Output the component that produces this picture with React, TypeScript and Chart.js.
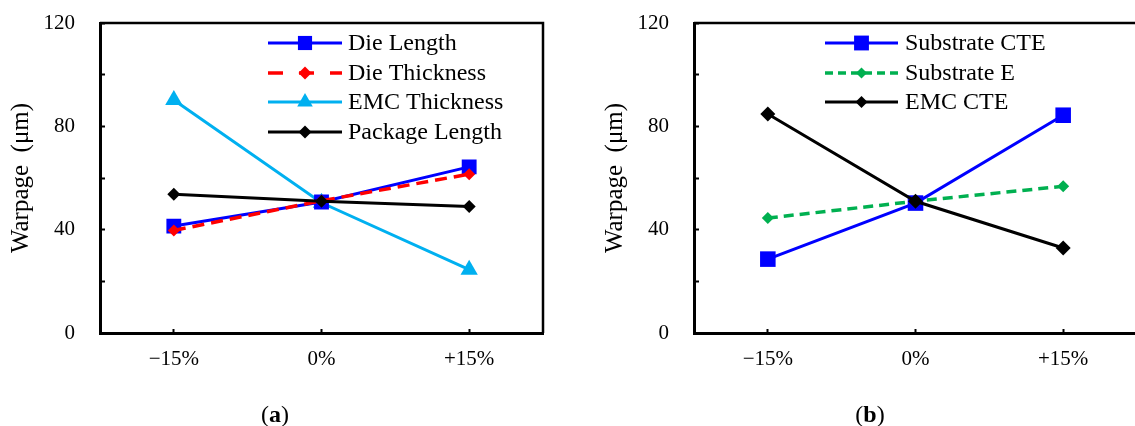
import React, { useEffect, useRef } from "react";
import { Chart, registerables } from "chart.js";

Chart.register(...registerables);

// ---------- data ----------
const categories = ["\u221215%", "0%", "+15%"];
const yLabelEvery = 40;

const dieLength = [41.4, 50.7, 64.3];
const dieThickness = [39.7, 51.2, 61.5];
const emcThickness = [90.2, 50.4, 24.5];
const packageLength = [53.7, 51.0, 49.0];

const substrateCTE = [28.6, 50.3, 84.3];
const substrateE = [44.5, 51.0, 56.8];
const emcCTE = [84.8, 51.0, 32.9];

const FONT = "'Liberation Serif', 'Times New Roman', serif";

function drawMarker(ctx: CanvasRenderingContext2D, style: string, x: number, y: number, r: number, color: string) {
  ctx.fillStyle = color;
  ctx.beginPath();
  if (style === "rect") {
    const s = r * Math.SQRT1_2;
    ctx.rect(x - s, y - s, 2 * s, 2 * s);
  } else if (style === "rectRot") {
    ctx.moveTo(x, y - r);
    ctx.lineTo(x + r, y);
    ctx.lineTo(x, y + r);
    ctx.lineTo(x - r, y);
    ctx.closePath();
  } else if (style === "triangle") {
    for (let k = 0; k < 3; k++) {
      const a = (k * 2 * Math.PI) / 3;
      const px = x + Math.sin(a) * r;
      const py = y - Math.cos(a) * r;
      if (k === 0) ctx.moveTo(px, py);
      else ctx.lineTo(px, py);
    }
    ctx.closePath();
  }
  ctx.fill();
}

const inlineLegend = {
  id: "inlineLegend",
  afterDraw(chart: any, _args: any, opts: any) {
    const ctx: CanvasRenderingContext2D = chart.ctx;
    chart.data.datasets.forEach((ds: any, i: number) => {
      const y = opts.rowY[i];
      ctx.save();
      ctx.strokeStyle = ds.borderColor;
      ctx.lineWidth = ds.borderWidth;
      ctx.setLineDash(opts.dash[i] || []);
      ctx.beginPath();
      ctx.moveTo(opts.x0, y);
      ctx.lineTo(opts.x1, y);
      ctx.stroke();
      ctx.setLineDash([]);
      drawMarker(ctx, ds.pointStyle, (opts.x0 + opts.x1) / 2, y, opts.radius[i], ds.pointBackgroundColor);
      ctx.fillStyle = "#000";
      ctx.font = `24px ${FONT}`;
      ctx.textBaseline = "middle";
      ctx.textAlign = "left";
      ctx.fillText(ds.label, opts.textX, y + 1);
      ctx.restore();
    });
  },
};

const frame = {
  id: "frame",
  afterDraw(chart: any) {
    const { ctx, chartArea } = chart;
    ctx.save();
    ctx.strokeStyle = "#000";
    ctx.lineWidth = 2.5;
    ctx.beginPath();
    ctx.moveTo(chartArea.left, chartArea.top);
    ctx.lineTo(chartArea.right, chartArea.top);
    ctx.lineTo(chartArea.right, chartArea.bottom);
    ctx.stroke();
    ctx.restore();
  },
};

function makeDataset(label: string, data: number[], color: string, style: string, radius: number, width: number, order: number, dash?: number[]) {
  return {
    label,
    data,
    borderColor: color,
    backgroundColor: color,
    pointBackgroundColor: color,
    pointBorderColor: color,
    pointBorderWidth: 0,
    pointStyle: style,
    pointRadius: radius,
    pointHoverRadius: radius,
    borderWidth: width,
    borderDash: dash || [],
    tension: 0,
    fill: false,
    order,
  };
}

function makeOptions(legendOpts: any): any {
  return {
    responsive: false,
    animation: false,
    layout: { padding: { top: 23, right: 17, left: 0, bottom: 0 } },
    plugins: {
      legend: { display: false },
      tooltip: { enabled: false },
      inlineLegend: legendOpts,
    },
    scales: {
      x: {
        type: "category",
        offset: true,
        ticks: { color: "#000", font: { family: FONT, size: 21 }, padding: 18, maxRotation: 0 },
        grid: { drawOnChartArea: false, offset: false, tickLength: -4, tickWidth: 2, tickColor: "#000" },
        border: { color: "#000", width: 3 },
        afterFit: (s: any) => {
          s.height = 93;
          s.paddingLeft = 0;
          s.paddingRight = 0;
        },
      },
      y: {
        min: 0,
        max: 120,
        ticks: {
          stepSize: 20,
          color: "#000",
          font: { family: FONT, size: 21 },
          padding: 30,
          callback: (v: any) => (Number(v) % yLabelEvery === 0 ? String(v) : ""),
        },
        grid: { drawOnChartArea: false, tickLength: -5, tickWidth: 2, tickColor: "#000" },
        border: { color: "#000", width: 3 },
        title: {
          display: true,
          text: "Warpage  (\u03bcm)",
          color: "#000",
          font: { family: FONT, size: 25 },
          padding: { top: 6, bottom: 0 },
        },
        afterFit: (s: any) => {
          s.width = 100;
          s.paddingTop = 0;
          s.paddingBottom = 0;
        },
      },
    },
  };
}

function ChartCanvas({ config }: { config: () => any }) {
  const ref = useRef<HTMLCanvasElement | null>(null);
  useEffect(() => {
    if (!ref.current) return;
    const chart = new Chart(ref.current, config());
    return () => chart.destroy();
  }, []);
  return <canvas ref={ref} width={560} height={426} style={{ width: 560, height: 426, display: "block" }} />;
}

const leftConfig = () => ({
  type: "line",
  data: {
    labels: categories,
    datasets: [
      makeDataset("Die Length", dieLength, "#0000FF", "rect", 10.5, 3, 2),
      makeDataset("Die Thickness", dieThickness, "#FF0000", "rectRot", 6, 3.5, 1, [12, 7]),
      makeDataset("EMC Thickness", emcThickness, "#00B0F0", "triangle", 10, 3, 3),
      makeDataset("Package Length", packageLength, "#000000", "rectRot", 6.5, 3, 0),
    ],
  },
  options: makeOptions({
    x0: 268,
    x1: 342,
    textX: 348,
    rowY: [43, 73, 102, 132],
    radius: [10, 6.5, 9, 6.5],
    dash: [[], [15, 16], [], []],
  }),
  plugins: [inlineLegend, frame],
});

const rightConfig = () => ({
  type: "line",
  data: {
    labels: categories,
    datasets: [
      makeDataset("Substrate CTE", substrateCTE, "#0000FF", "rect", 11, 3, 2),
      makeDataset("Substrate E", substrateE, "#00B050", "rectRot", 6, 3.5, 1, [10, 6]),
      makeDataset("EMC CTE", emcCTE, "#000000", "rectRot", 7.5, 3, 0),
    ],
  },
  options: makeOptions({
    x0: 231,
    x1: 304,
    textX: 311,
    rowY: [43, 73, 102],
    radius: [10.5, 5.5, 6],
    dash: [[], [8, 5], []],
  }),
  plugins: [inlineLegend, frame],
});

export default function App() {
  const caption: React.CSSProperties = {
    position: "absolute",
    top: 402,
    fontFamily: FONT,
    fontSize: 24,
    lineHeight: "24px",
    color: "#000",
    transform: "translateX(-50%)",
    whiteSpace: "nowrap",
  };
  return (
    <div style={{ position: "fixed", left: 0, top: 0, width: 1135, height: 426, overflow: "hidden", background: "#fff" }}>
      <div style={{ position: "absolute", left: 0, top: 0 }}>
        <ChartCanvas config={leftConfig} />
      </div>
      <div style={{ position: "absolute", left: 594, top: 0 }}>
        <ChartCanvas config={rightConfig} />
      </div>
      <div style={{ ...caption, left: 275 }}>
        (<b>a</b>)
      </div>
      <div style={{ ...caption, left: 870 }}>
        (<b>b</b>)
      </div>
    </div>
  );
}
